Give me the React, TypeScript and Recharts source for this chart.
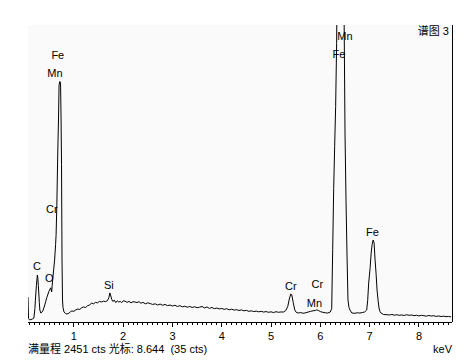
import { LineChart, Line, XAxis, YAxis, ReferenceArea, ReferenceLine, ReferenceDot } from 'recharts'

// spectrum, energy in keV and counts
const energy = [
    0.07, 0.08, 0.10, 0.13, 0.16, 0.19, 0.21, 0.22, 0.24, 0.26, 0.27, 0.28, 0.30, 0.31, 0.33, 0.35, 0.37, 0.39,
    0.41, 0.43, 0.45, 0.47, 0.49, 0.51, 0.53, 0.55, 0.56, 0.57, 0.59, 0.61, 0.63, 0.64, 0.655, 0.675, 0.69, 0.70,
    0.715, 0.73, 0.74, 0.75, 0.76, 0.77, 0.78, 0.80, 0.83, 0.86, 0.90, 0.93, 0.96, 1.00, 1.04, 1.08, 1.12, 1.16,
    1.20, 1.24, 1.28, 1.32, 1.36, 1.40, 1.44, 1.48, 1.52, 1.56, 1.60, 1.64, 1.68, 1.71, 1.73, 1.75, 1.77, 1.79,
    1.82, 1.85, 1.88, 1.91, 1.94, 1.97, 2.00, 2.04, 2.08, 2.12, 2.16, 2.20, 2.24, 2.28, 2.32, 2.36, 2.40, 2.45,
    2.50, 2.55, 2.60, 2.65, 2.70, 2.75, 2.80, 2.85, 2.90, 2.95, 3.00, 3.05, 3.10, 3.15, 3.20, 3.25, 3.30, 3.35,
    3.40, 3.45, 3.50, 3.55, 3.60, 3.65, 3.70, 3.75, 3.80, 3.85, 3.90, 3.95, 4.00, 4.05, 4.10, 4.15, 4.20, 4.25,
    4.30, 4.35, 4.40, 4.45, 4.50, 4.55, 4.60, 4.65, 4.70, 4.75, 4.80, 4.85, 4.90, 4.95, 5.00, 5.05, 5.10, 5.15,
    5.20, 5.25, 5.30, 5.34, 5.37, 5.40, 5.42, 5.45, 5.48, 5.51, 5.55, 5.60, 5.65, 5.70, 5.75, 5.80, 5.85, 5.90,
    5.93, 5.96, 6.00, 6.05, 6.10, 6.15, 6.20, 6.23, 6.25, 6.27, 6.29, 6.31, 6.33, 6.34, 6.37, 6.40, 6.43, 6.46,
    6.48, 6.50, 6.52, 6.54, 6.56, 6.58, 6.60, 6.64, 6.70, 6.75, 6.80, 6.85, 6.90, 6.94, 6.96, 6.98, 7.01, 7.03,
    7.05, 7.07, 7.09, 7.11, 7.13, 7.15, 7.17, 7.19, 7.21, 7.23, 7.28, 7.35, 7.40, 7.45, 7.50, 7.55, 7.60, 7.65,
    7.70, 7.75, 7.80, 7.85, 7.90, 7.95, 8.00, 8.05, 8.10, 8.15, 8.20, 8.25, 8.30, 8.35, 8.40, 8.45, 8.50, 8.55,
    8.60, 8.65
]

const counts = [
    206, 30, 18, 20, 25, 33, 110, 180, 300, 388, 360, 300, 160, 99, 74, 80, 91, 115,
    140, 170, 200, 223, 250, 264, 282, 248, 300, 346, 430, 511, 640, 720, 965, 1419, 1700, 1955,
    1985, 1972, 1700, 1300, 511, 182, 120, 83, 70, 66, 72, 85, 91, 88, 100, 107, 104, 118,
    124, 120, 135, 140, 157, 150, 162, 158, 170, 165, 172, 168, 175, 200, 240, 215, 185, 170,
    180, 160, 175, 165, 170, 160, 175, 172, 162, 170, 158, 168, 165, 160, 168, 155, 162, 150,
    158, 152, 145, 150, 140, 148, 138, 145, 135, 140, 132, 138, 128, 135, 125, 130, 122, 128,
    120, 126, 118, 122, 128, 116, 124, 112, 120, 110, 115, 108, 112, 104, 110, 100, 106, 98,
    102, 95, 100, 92, 96, 88, 92, 86, 90, 84, 88, 82, 86, 80, 84, 78, 85, 80,
    83, 82, 95, 130, 190, 231, 225, 160, 100, 80, 74, 78, 72, 76, 82, 88, 92, 96,
    100, 95, 86, 80, 76, 74, 82, 110, 600, 1100, 1450, 1780, 2300, 2800, 4200, 5200, 4800, 3600,
    2600, 1560, 1006, 560, 182, 120, 99, 74, 72, 76, 74, 78, 83, 99, 180, 322, 450, 569,
    640, 676, 652, 511, 400, 264, 180, 115, 85, 74, 62, 60, 58, 62, 56, 60, 55, 58,
    54, 60, 55, 58, 52, 56, 50, 55, 52, 48, 54, 49, 52, 46, 50, 45, 48, 44,
    46, 42
]

// peak labels: text, keV, counts at the label centre
const peakNames = ['Fe', 'Mn', 'Cr', 'C', 'O', 'Si', 'Cr', 'Cr', 'Mn', 'Mn', 'Fe', 'Fe']
const peakKeV = [0.675, 0.615, 0.555, 0.25, 0.50, 1.71, 5.40, 5.94, 5.88, 6.50, 6.377, 7.055]
const peakCts = [2200, 2054, 932, 462, 363, 305, 297, 313, 157, 2360, 2211, 743]

const majorTicks = [1, 2, 3, 4, 5, 6, 7, 8]
const fullScale = 2451
const xDomain = [0.07, 8.67]

const font = '"Liberation Sans", Arial, "Noto Sans CJK SC", sans-serif'

const data = energy.map((e, i) => ({ e, c: counts[i] }))
const minorTicks = Array.from({ length: 86 }, (_, i) => Math.round((i + 1) * 10) / 100 * 10 / 10)
    .map(v => Math.round(v * 10) / 10)

function Tick(props: any) {
    const { x, y, payload } = props
    const v = payload.value
    const major = majorTicks.includes(Math.round(v * 10) / 10)
    return (
        <g>
            <line x1={x} x2={x} y1={y} y2={y + (major ? 5 : 3)} stroke="#000" shapeRendering="crispEdges" />
            {major && (
                <text x={x} y={y + 18} textAnchor="middle" fontSize={11} fontFamily={font} fill="#000">
                    {Math.round(v)}
                </text>
            )}
        </g>
    )
}

export default function App() {
    return (
        <div style={{ position: 'absolute', left: 0, top: 0, width: 469, height: 363, background: '#fff' }}>
            <LineChart
                width={469}
                height={363}
                data={data}
                margin={{ top: 25, right: 17, bottom: 11, left: 28 }}
            >
                <ReferenceArea x1={xDomain[0]} x2={xDomain[1]} y1={0} y2={fullScale} fill="#fafafa" fillOpacity={1} stroke="none" />
                <XAxis
                    dataKey="e"
                    type="number"
                    domain={xDomain}
                    allowDataOverflow
                    ticks={minorTicks}
                    interval={0}
                    tick={<Tick />}
                    tickSize={0}
                    tickMargin={0}
                    tickLine={false}
                    height={30}
                    axisLine={{ stroke: '#000', shapeRendering: 'crispEdges' }}
                />
                <YAxis hide width={0} domain={[0, fullScale]} allowDataOverflow />
                <ReferenceLine x={xDomain[1]} stroke="#000" shapeRendering="crispEdges" />
                <Line
                    type="linear"
                    dataKey="c"
                    stroke="#000"
                    strokeWidth={1}
                    dot={false}
                    activeDot={false}
                    isAnimationActive={false}
                />
                {peakNames.map((n, i) => (
                    <ReferenceDot
                        key={i}
                        x={peakKeV[i]}
                        y={peakCts[i]}
                        r={0}
                        ifOverflow="visible"
                        shape={(p: any) => (
                            <text x={p.cx} y={p.cy + 4} textAnchor="middle" fontSize={11} fontFamily={font} fill="#000">
                                {n}
                            </text>
                        )}
                    />
                ))}
            </LineChart>
            <div style={{ position: 'absolute', right: 20, top: 25, fontSize: 11, fontFamily: font, lineHeight: '13px' }}>
                谱图 3
            </div>
            <div style={{ position: 'absolute', left: 28, top: 343, fontSize: 11, fontFamily: font, lineHeight: '13px', whiteSpace: 'pre' }}>
                满量程 2451 cts 光标: 8.644  (35 cts)
            </div>
            <div style={{ position: 'absolute', left: 400, width: 52, textAlign: 'right', top: 343, fontSize: 11, fontFamily: font, lineHeight: '13px' }}>
                keV
            </div>
        </div>
    )
}
